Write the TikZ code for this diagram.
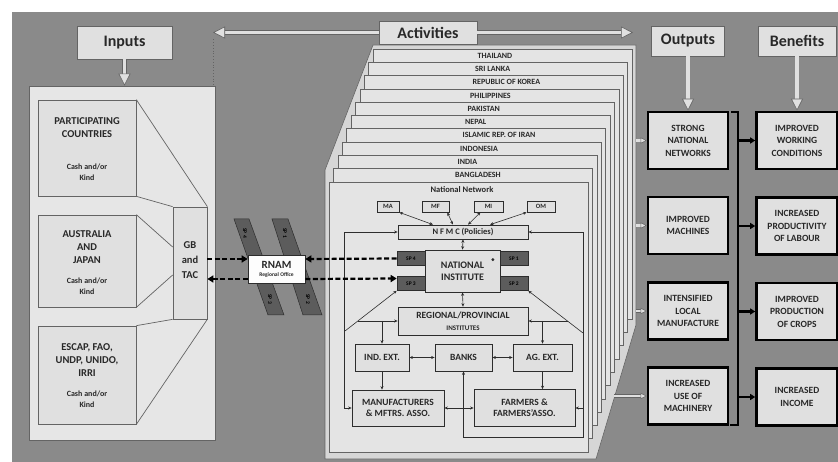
\documentclass[tikz,border=0pt]{standalone}
\usepackage{fontspec}
\setmainfont{Carlito}
\usetikzlibrary{arrows.meta,positioning}
\definecolor{bggrey}{RGB}{138,138,138}
\definecolor{boxfill}{RGB}{224,224,224}
\definecolor{panelfill}{RGB}{230,230,230}
\definecolor{pagefill}{RGB}{228,228,228}
\definecolor{envfill}{RGB}{214,214,214}
\definecolor{pageline}{RGB}{100,100,100}
\definecolor{linedark}{RGB}{45,45,45}
\definecolor{spgrey}{RGB}{92,92,92}
\definecolor{textdark}{RGB}{40,40,40}

\tikzset{
  hdr/.style={draw=pageline, fill=boxfill, line width=0.8pt, inner sep=0pt, text=textdark,
    font=\bfseries\fontsize{16}{18}\selectfont},
  panel/.style={draw=pageline, fill=panelfill, line width=0.7pt, inner sep=0pt},
  inbox/.style={draw=pageline, fill=boxfill, line width=0.7pt, inner sep=0pt},
  inlabel/.style={font=\bfseries\fontsize{10.5}{13}\selectfont, align=center, text=textdark, inner sep=0pt},
  inlabelsm/.style={font=\bfseries\fontsize{8}{11}\selectfont, align=center, text=textdark, inner sep=0pt},
  netbox/.style={draw=linedark, fill=boxfill, line width=0.7pt, inner sep=0pt, align=center, text=textdark,
    font=\bfseries\fontsize{9.5}{11.5}\selectfont},
  tinybox/.style={netbox, minimum height=11pt, font=\bfseries\fontsize{6.5}{7}\selectfont},
  spbox/.style={draw=linedark, fill=spgrey, line width=0.6pt, minimum width=28pt, minimum height=14pt,
    inner sep=0pt, text=black, font=\bfseries\fontsize{5.5}{6}\selectfont},
  bandlabel/.style={rotate=-90, inner sep=0pt, text=black, font=\bfseries\fontsize{5.5}{6}\selectfont},
  outbox/.style={draw=black, fill=boxfill, line width=2.6pt, inner sep=0pt, align=center, text=textdark,
    font=\bfseries\fontsize{9.5}{12.5}\selectfont},
  link/.style={draw=linedark, line width=0.6pt, {Stealth[length=3.5pt,width=3pt]}-{Stealth[length=3.5pt,width=3pt]}},
  tolink/.style={draw=linedark, line width=0.6pt, -{Stealth[length=3.5pt,width=3pt]}},
  dashlink/.style={draw=black, line width=2.2pt, dash pattern=on 5pt off 2.5pt, -{Triangle[length=6pt,width=7pt]}},
  hollow/.style={draw=pageline, line width=0.6pt, double=boxfill, double distance=3.5pt,
    -{Triangle[open, fill=boxfill, line width=0.6pt, length=12pt, width=12pt]}},
  hollowsm/.style={draw=pageline, line width=0.5pt, double=boxfill, double distance=2.5pt,
    -{Triangle[open, fill=boxfill, line width=0.5pt, length=6pt, width=6pt]}},
  brlink/.style={draw=black, line width=2.6pt, -{Triangle[length=5pt,width=6pt]}},
}

\begin{document}
\begin{tikzpicture}[x=1pt,y=-1pt]
  \useasboundingbox (0,0) rectangle (838,462);
  % backdrop
  \fill[white] (0,0) rectangle (838,462);
  \fill[bggrey] (12,12) rectangle (838,462);

  % Inputs panel
  \node[hdr, minimum width=95pt, minimum height=33pt] (inputs) at (124.5,42.5) {Inputs};
  \node[panel, minimum width=186pt, minimum height=354pt] (inpanel) at (122,263) {};
  \node[inbox, minimum width=98pt, minimum height=96pt] (partic) at (87,148) {};
  \node[inbox, minimum width=98pt, minimum height=92pt] (ausjap) at (87,261) {};
  \node[inbox, minimum width=98pt, minimum height=98pt] (escap) at (87,375) {};
  \node[inbox, minimum width=34pt, minimum height=112pt] (gbtac) at (190,263) {};
  \draw[pageline, line width=0.7pt] (partic.north east) -- (gbtac.north east);
  \draw[pageline, line width=0.7pt] (partic.south east) -- (gbtac.north west);
  \draw[pageline, line width=0.7pt] (ausjap.north east) -- ([yshift=16pt]gbtac.west);
  \draw[pageline, line width=0.7pt] (ausjap.south east) -- ([yshift=-12pt]gbtac.west);
  \draw[pageline, line width=0.7pt] (escap.north east) -- (gbtac.south west);
  \draw[pageline, line width=0.7pt] (escap.south east) -- (gbtac.south east);
  \node[inlabel] (particname) at (87,127.5) {PARTICIPATING\\COUNTRIES};
  \node[inlabelsm] (particcash) at (87,172.5) {Cash and/or\\Kind};
  \node[inlabel] (ausjapname) at (87,247) {AUSTRALIA\\AND\\JAPAN};
  \node[inlabelsm] (ausjapcash) at (87,286) {Cash and/or\\Kind};
  \node[inlabel] (escapname) at (87,360.5) {ESCAP, FAO,\\UNDP, UNIDO,\\IRRI};
  \node[inlabelsm] (escapcash) at (87,399) {Cash and/or\\Kind};
  \node[inlabel, font=\bfseries\fontsize{10.5}{15}\selectfont] (gbtacname) at (190,260) {GB\\and\\TAC};
  \draw[hollow] (inputs.south) -- (inputs.south |- inpanel.north);

  % RNAM regional office and bands
  \filldraw[fill=spgrey, draw=linedark, line width=0.5pt] (234,219) -- (249,219) -- (284,315) -- (268,315) -- cycle;
  \filldraw[fill=spgrey, draw=linedark, line width=0.5pt] (272,219) -- (288,219) -- (322,315) -- (303,315) -- cycle;
  \node[bandlabel] (bandfour) at (245,233) {SP\kern1.5pt4};
  \node[bandlabel] (bandone) at (285,233) {SP\kern1.5pt1};
  \node[bandlabel] (bandthree) at (270,299) {SP\kern1.5pt3};
  \node[bandlabel] (bandtwo) at (308,299) {SP\kern1.5pt2};
  \node[netbox, fill=white!92!boxfill, minimum width=57pt, minimum height=28pt,
    font=\bfseries\fontsize{11}{10}\selectfont] (rnam) at (276.5,269)
    {RNAM\\[-2pt]{\fontsize{5.5}{6}\selectfont Regional Office}};

  % Activities: stack of national pages
  \filldraw[fill=envfill, draw=pageline, line width=0.6pt]
    (373,45) -- (636,45) -- (636,325) -- (596,459) -- (325,459) -- (325,170) -- cycle;
  \foreach \k in {10,9,...,0}{
    \filldraw[fill=pagefill, draw=pageline, line width=0.6pt]
      (329+4.4*\k,182-13.3*\k) rectangle (588+4.4*\k,452-13.3*\k);
  }
  \foreach \k/\cname in {1/BANGLADESH, 2/INDIA, 3/INDONESIA, 4/ISLAMIC REP. OF IRAN, 5/NEPAL,
      6/PAKISTAN, 7/PHILIPPINES, 8/REPUBLIC OF KOREA, 9/SRI LANKA, 10/THAILAND}{
    \node[anchor=west, inner sep=0pt, text=textdark, font=\bfseries\fontsize{8}{9}\selectfont]
      (ctry\k) at (455+2.5*\k-2.5,188.6-13.3*\k) {\cname};
  }
  \node[hdr, minimum width=98pt, minimum height=23pt] (activities) at (428,32.5) {Activities};
  \coordinate (tipleft) at (213,32.5);
  \coordinate (tipright) at (633,32.5);
  \draw[hollow] (activities.west) -- (tipleft);
  \draw[hollow] (activities.east) -- (tipright);
  \draw[pageline, dotted, line width=0.8pt] ([yshift=-7pt]tipleft) -- (tipleft |- inpanel.north);

  % National network
  \node[inner sep=0pt, text=textdark, font=\bfseries\fontsize{8.5}{9}\selectfont] (natnet) at (462,190) {National Network};
  \node[tinybox, minimum width=22pt] (ma) at (388,206.5) {MA};
  \node[tinybox, minimum width=27pt] (mf) at (435.5,206.5) {MF};
  \node[tinybox, minimum width=29pt] (mi) at (488.5,206.5) {MI};
  \node[tinybox, minimum width=28pt] (om) at (541,206.5) {OM};
  \node[netbox, minimum width=130pt, minimum height=14pt, font=\bfseries\fontsize{8.5}{9}\selectfont] (nfmc) at (463,232) {N F M C (Policies)};
  \node[netbox, minimum width=75pt, minimum height=42pt, font=\bfseries\fontsize{10}{12}\selectfont] (natinst) at (462.5,271) {NATIONAL\\INSTITUTE};
  \fill[linedark] ([xshift=-7.5pt,yshift=-10pt]natinst.north east) circle (1.6pt);
  \node[spbox] (spfour) at (411,258.5) {SP 4};
  \node[spbox] (spone) at (514,258.5) {SP 1};
  \node[spbox] (spthree) at (411,283.5) {SP 3};
  \node[spbox] (sptwo) at (514,283.5) {SP 2};
  \node[netbox, minimum width=130pt, minimum height=28pt] (rpi) at (463,321)
    {REGIONAL/PROVINCIAL\\{\fontsize{7}{8}\selectfont INSTITUTES}};
  \node[netbox, minimum width=54pt, minimum height=27pt] (indext) at (382,357.5) {IND. EXT.};
  \node[netbox, minimum width=57pt, minimum height=27pt] (banks) at (463.5,357.5) {BANKS};
  \node[netbox, minimum width=59pt, minimum height=27pt] (agext) at (542.5,357.5) {AG. EXT.};
  \node[netbox, minimum width=92pt, minimum height=36pt] (manuf) at (398,408) {MANUFACTURERS\\\& MFTRS. ASSO.};
  \node[netbox, minimum width=101pt, minimum height=37pt] (farmers) at (524.5,408) {FARMERS \&\\FARMERS'ASSO.};

  % links inside the national network
  \draw[link] (ma.south east) -- ([xshift=-30pt]nfmc.north);
  \draw[link] ([xshift=-2pt]mf.south east) -- ([xshift=-10pt]nfmc.north);
  \draw[link] ([xshift=-8pt]mi.south) -- ([xshift=5pt]nfmc.north);
  \draw[link] (om.south west) -- ([xshift=27pt]nfmc.north);
  \draw[link] (nfmc.south) -- (natinst.north);
  \draw[link] (natinst.south) -- (rpi.north);
  \draw[link] (nfmc.west) -- ++(-53,0) |- (manuf.west);
  \draw[link] (nfmc.east) -- ++(55,0) |- (farmers.east);
  \coordinate (loopbot) at (583,437);
  \draw[draw=linedark, line width=0.6pt, {Stealth[length=3.5pt,width=3pt]}-] (banks.south) |- (loopbot) -- ++(0,-29);
  \coordinate (diagleft) at (345,331);
  \coordinate (diagright) at (583,333);
  \draw[tolink] (diagleft) -- (spthree.south west);
  \draw[tolink] (diagright) -- (sptwo.south east);
  \coordinate (rpileft) at (358,321);
  \coordinate (rpiright) at (568,321);
  \draw[tolink] (rpileft) -- (rpi.west);
  \draw[tolink] (rpiright) -- (rpi.east);
  \draw[tolink] (indext.north |- rpileft) -- (indext.north);
  \draw[tolink] (agext.north |- rpiright) -- (agext.north);
  \draw[link] (indext.east) -- (banks.west);
  \draw[link] (banks.east) -- (agext.west);
  \draw[tolink] (indext.south) -- (indext.south |- manuf.north);
  \draw[tolink] (agext.south) -- (agext.south |- farmers.north);
  \draw[link] (manuf.east) -- (farmers.west);

  % dashed links to the regional office
  \draw[dashlink] ([yshift=4pt]gbtac.east) -- ([yshift=10pt]rnam.west);
  \draw[dashlink] ([yshift=-10pt]rnam.west) -- ([yshift=-16pt]gbtac.east);
  \draw[dashlink] (spfour.west) -- ([yshift=10pt]rnam.east);
  \draw[dashlink] ([yshift=-10pt]rnam.east) -- ([yshift=5pt]spthree.west);

  % Outputs and benefits
  \node[hdr, minimum width=73pt, minimum height=30pt] (outputs) at (688,41) {Outputs};
  \node[hdr, minimum width=78pt, minimum height=30pt] (benefits) at (797,41) {Benefits};
  \node[outbox, minimum width=80pt, minimum height=57pt] (strong) at (688,140.5) {STRONG\\NATIONAL\\NETWORKS};
  \node[outbox, minimum width=80pt, minimum height=57pt] (machines) at (688,225.5) {IMPROVED\\MACHINES};
  \node[outbox, minimum width=80pt, minimum height=57pt] (localmfg) at (688,311) {INTENSIFIED\\LOCAL\\MANUFACTURE};
  \node[outbox, minimum width=80pt, minimum height=57pt] (usemach) at (688,396) {INCREASED\\USE OF\\MACHINERY};
  \node[outbox, minimum width=81pt, minimum height=57pt] (working) at (797,140.5) {IMPROVED\\WORKING\\CONDITIONS};
  \node[outbox, minimum width=81pt, minimum height=57pt] (labour) at (797,226) {INCREASED\\PRODUCTIVITY\\OF LABOUR};
  \node[outbox, minimum width=81pt, minimum height=57pt] (crops) at (797,311.5) {IMPROVED\\PRODUCTION\\OF CROPS};
  \node[outbox, minimum width=81pt, minimum height=57pt] (income) at (797,397) {INCREASED\\INCOME};
  \draw[hollow] (outputs.south) -- (strong.north);
  \draw[hollow] (benefits.south) -- (working.north);
  \coordinate (envright) at (636,142);
  \coordinate (envslant) at (614,396);
  \draw[hollowsm] (strong.west -| envright) -- (strong.west);
  \draw[hollowsm] (machines.west -| envright) -- (machines.west);
  \draw[hollowsm] (localmfg.west -| envright) -- (localmfg.west);
  \draw[hollowsm] (envslant) -- (usemach.west);
  \coordinate (brtop) at (738,112);
  \coordinate (brbot) at (738,425);
  \draw[black, line width=2.6pt] ([xshift=-7pt]brtop) -- (brtop) -- (brbot) -- ([xshift=-8pt]brbot);
  \foreach \b in {working,labour,crops,income}{
    \draw[brlink] (brtop |- \b.west) -- (\b.west);
  }
\end{tikzpicture}
\end{document}
